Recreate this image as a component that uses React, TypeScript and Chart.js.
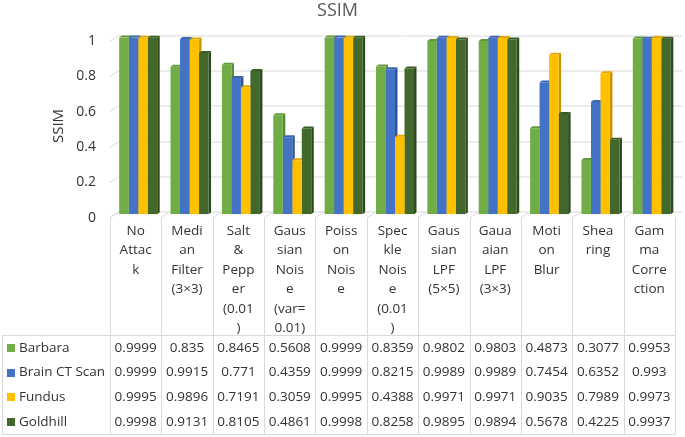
import React, { useEffect, useRef } from "react";
import { Chart, registerables } from "chart.js";

Chart.register(...registerables);

const categories: string[][] = [
  ["No", "Attac", "k"],
  ["Medi", "an", "Filter", "(3×3)"],
  ["Salt", "&", "Pepp", "er", "(0.01", ")"],
  ["Gaus", "sian", "Nois", "e", "(var=", "0.01)"],
  ["Poiss", "on", "Nois", "e"],
  ["Spec", "kle", "Nois", "e", "(0.01", ")"],
  ["Gaus", "sian", "LPF", "(5×5)"],
  ["Gaua", "aian", "LPF", "(3×3)"],
  ["Moti", "on", "Blur"],
  ["Shea", "ring"],
  ["Gam", "ma", "Corre", "ction"],
];

const seriesNames = ["Barbara", "Brain CT Scan", "Fundus", "Goldhill"];
const barbara = [0.9999, 0.835, 0.8465, 0.5608, 0.9999, 0.8359, 0.9802, 0.9803, 0.4873, 0.3077, 0.9953];
const brainCT = [0.9999, 0.9915, 0.771, 0.4359, 0.9999, 0.8215, 0.9989, 0.9989, 0.7454, 0.6352, 0.993];
const fundus = [0.9995, 0.9896, 0.7191, 0.3059, 0.9995, 0.4388, 0.9971, 0.9971, 0.9035, 0.7989, 0.9973];
const goldhill = [0.9998, 0.9131, 0.8105, 0.4861, 0.9998, 0.8258, 0.9895, 0.9894, 0.5678, 0.4225, 0.9937];
const yTicks = [0, 0.2, 0.4, 0.6, 0.8, 1];

const seriesValues = [barbara, brainCT, fundus, goldhill];
const seriesColors = ["#70AD47", "#4472C4", "#FFC000", "#43682B"];
const sideColors = ["#548a34", "#2f5597", "#c69500", "#2c4a1b"];
const topColors = ["#62993c", "#3a64b0", "#e0a800", "#385a24"];

const FONT = "'Open Sans', 'Noto Sans', sans-serif";
const TEXT = "#333333";
const GRID = "#d9d9d9";
const DX = 2.5;
const DY = 2;
const SHIFT = 2.5;

const threeD = {
  id: "threeD",
  beforeDatasetsDraw(chart: any) {
    const { ctx, chartArea, scales } = chart;
    const ys = scales.y;
    ctx.save();
    ctx.strokeStyle = GRID;
    ctx.lineWidth = 1;
    yTicks.forEach((v) => {
      const py = Math.round(ys.getPixelForValue(v)) + 0.5;
      ctx.beginPath();
      ctx.moveTo(chartArea.left, py + 3);
      ctx.lineTo(chartArea.left + 8, py - 2.5);
      ctx.lineTo(chartArea.right + 8, py - 2.5);
      ctx.stroke();
    });
    ctx.restore();

    ctx.save();
    ctx.translate(SHIFT, 0);
    chart.data.datasets.forEach((_ds: any, di: number) => {
      const meta = chart.getDatasetMeta(di);
      meta.data.forEach((bar: any) => {
        const { x, y, base, width } = bar.getProps(["x", "y", "base", "width"], true);
        const l = x - width / 2;
        const r = x + width / 2;
        ctx.fillStyle = sideColors[di];
        ctx.beginPath();
        ctx.moveTo(r, y);
        ctx.lineTo(r + DX, y - DY);
        ctx.lineTo(r + DX, base - DY);
        ctx.lineTo(r, base);
        ctx.closePath();
        ctx.fill();
        ctx.fillStyle = topColors[di];
        ctx.beginPath();
        ctx.moveTo(l, y);
        ctx.lineTo(l + DX, y - DY);
        ctx.lineTo(r + DX, y - DY);
        ctx.lineTo(r, y);
        ctx.closePath();
        ctx.fill();
      });
    });
  },
  afterDatasetsDraw(chart: any) {
    chart.ctx.restore();
  },
};

const dataTable = {
  id: "dataTable",
  afterDraw(chart: any) {
    const { ctx, chartArea } = chart;
    const n = categories.length;
    const cw = (chartArea.right - chartArea.left) / n;
    const tableTop = chart.height - 101.5;
    const tableBottom = chart.height - 2.5;
    const rowH = (tableBottom - tableTop) / seriesNames.length;
    const right = Math.round(chartArea.right) + 0.5;
    ctx.save();
    ctx.strokeStyle = GRID;
    ctx.lineWidth = 1;
    for (let i = 0; i <= n; i++) {
      const px = Math.round(chartArea.left + i * cw) + 0.5;
      ctx.beginPath();
      if (i < n) {
        ctx.moveTo(px + 8, chartArea.bottom - 2);
        ctx.lineTo(px, chartArea.bottom + 3);
      } else {
        ctx.moveTo(px, chartArea.bottom + 3);
      }
      ctx.lineTo(px, tableBottom);
      ctx.stroke();
    }
    ctx.beginPath();
    ctx.moveTo(2.5, tableTop);
    ctx.lineTo(2.5, tableBottom);
    ctx.moveTo(2, tableTop);
    ctx.lineTo(right, tableTop);
    ctx.moveTo(2, tableBottom);
    ctx.lineTo(right, tableBottom);
    ctx.stroke();

    ctx.font = `13.5px ${FONT}`;
    ctx.textBaseline = "middle";
    seriesNames.forEach((name, si) => {
      const cy = tableTop + rowH * (si + 0.5);
      ctx.fillStyle = seriesColors[si];
      ctx.fillRect(7, Math.round(cy - 4), 8, 8);
      ctx.fillStyle = TEXT;
      ctx.textAlign = "left";
      ctx.fillText(name, 19, cy);
      ctx.textAlign = "center";
      seriesValues[si].forEach((v, ci) => {
        const cx = chartArea.left + cw * (ci + 0.5);
        ctx.fillText(String(v), cx, cy);
      });
    });
    ctx.restore();
  },
};

export default function App() {
  const ref = useRef<HTMLCanvasElement | null>(null);
  useEffect(() => {
    document.body.style.margin = "0";
    const canvas = ref.current;
    if (!canvas) return;
    const chart = new Chart(canvas, {
      type: "bar",
      data: {
        labels: categories,
        datasets: seriesNames.map((name, i) => ({
          label: name,
          data: seriesValues[i],
          backgroundColor: seriesColors[i],
          borderWidth: 0,
          categoryPercentage: 0.74,
          barPercentage: 1,
        })),
      },
      plugins: [threeD, dataTable],
      options: {
        animation: false,
        responsive: false,
        devicePixelRatio: 1,
        layout: { padding: { left: 0, right: 10, top: 0, bottom: 92 } },
        plugins: {
          legend: { display: false },
          tooltip: { enabled: false },
          title: {
            display: true,
            text: "SSIM",
            color: "#595959",
            font: { family: FONT, size: 18, weight: "normal" },
            padding: { top: 0, bottom: 16 },
          },
        },
        scales: {
          x: {
            grid: { display: false, drawTicks: false },
            border: { display: false },
            ticks: {
              autoSkip: false,
              maxRotation: 0,
              minRotation: 0,
              padding: 7,
              color: TEXT,
              font: { family: FONT, size: 13.5, lineHeight: 1.44 },
            },
          },
          y: {
            min: 0,
            max: 1,
            grid: { display: false, drawTicks: false },
            border: { display: false },
            afterBuildTicks: (scale: any) => {
              scale.ticks = yTicks.map((v) => ({ value: v }));
            },
            afterFit: (scale: any) => {
              scale.width = 110;
            },
            ticks: {
              padding: 14,
              labelOffset: 3.5,
              color: TEXT,
              font: { family: FONT, size: 14 },
              callback: (v: any) => String(Math.round(Number(v) * 10) / 10),
            },
            title: {
              display: true,
              text: "SSIM",
              color: TEXT,
              font: { family: FONT, size: 15 },
              padding: { top: 50, bottom: 0 },
            },
          },
        },
      },
    });
    return () => chart.destroy();
  }, []);
  return (
    <div style={{ width: 685, height: 437, background: "#fff" }}>
      <canvas ref={ref} width={685} height={437} style={{ display: "block" }} />
    </div>
  );
}
